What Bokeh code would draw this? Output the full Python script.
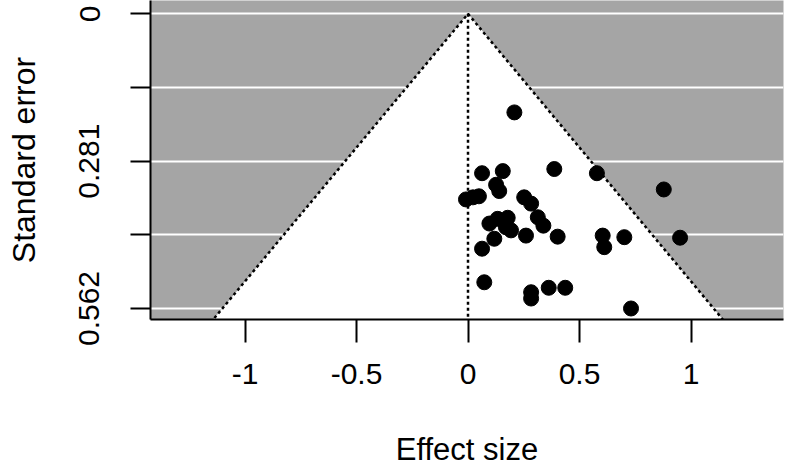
from bokeh.plotting import figure
from bokeh.models import Range1d, FixedTicker
from bokeh.embed import file_html
from bokeh.resources import INLINE

# ---- data ----
effect = [0.208, 0.063, 0.156, 0.387, 0.578, 0.878, 0.126, 0.140, -0.009, 0.022,
          0.049, 0.252, 0.283, 0.096, 0.133, 0.178, 0.170, 0.193, 0.118, 0.063,
          0.260, 0.313, 0.338, 0.402, 0.604, 0.611, 0.701, 0.951, 0.073, 0.283,
          0.283, 0.362, 0.436, 0.731]
std_err = [0.188, 0.304, 0.300, 0.296, 0.304, 0.335, 0.326, 0.338, 0.354, 0.350,
           0.348, 0.350, 0.362, 0.400, 0.391, 0.389, 0.407, 0.413, 0.429, 0.448,
           0.423, 0.388, 0.404, 0.425, 0.423, 0.445, 0.426, 0.427, 0.512, 0.531,
           0.543, 0.5225, 0.5225, 0.562]
x_ticks = [-1, -0.5, 0, 0.5, 1]
x_tick_labels = ["-1", "-0.5", "0", "0.5", "1"]
y_ticks = [0, 0.1405, 0.281, 0.4215, 0.562]
y_tick_labels = ["0", "", "0.281", "", "0.562"]
z_crit = 1.96

# ---- layout ----
X_LO, X_HI = -1.4238, 1.4148
Y_TOP, Y_BOTTOM = -0.0254, 0.583
FONT = "Liberation Sans"

p = figure(width=786, height=470, output_backend="svg", toolbar_location=None,
           x_range=Range1d(X_LO, X_HI), y_range=Range1d(Y_BOTTOM, Y_TOP),
           min_border_left=150, min_border_right=3, min_border_top=0,
           min_border_bottom=151)
p.background_fill_color = "#A5A5A5"
p.border_fill_color = "white"
p.outline_line_color = None

# grid
p.xgrid.visible = False
p.ygrid.ticker = FixedTicker(ticks=y_ticks)
p.ygrid.grid_line_color = "white"
p.ygrid.grid_line_width = 2

# funnel region
se_ext = Y_BOTTOM + 0.05
p.patch([-z_crit * se_ext, 0, z_crit * se_ext], [se_ext, 0, se_ext],
        fill_color="white", line_color=None)
p.line([-z_crit * se_ext, 0, z_crit * se_ext], [se_ext, 0, se_ext],
       line_color="black", line_width=2.5, line_dash="3 3")
p.line([0, 0], [0, se_ext], line_color="black", line_width=2.5, line_dash="3 3")

# studies
p.scatter(effect, std_err, size=15, color="black")

# axes
for ax in (p.xaxis[0], p.yaxis[0]):
    ax.axis_line_width = 2
    ax.major_tick_line_width = 2
    ax.major_tick_in = 0
    ax.minor_tick_line_color = None
    ax.major_label_text_font = FONT
    ax.major_label_text_font_size = "30px"
    ax.major_label_text_color = "black"
    ax.axis_label_text_font = FONT
    ax.axis_label_text_font_style = "normal"
    ax.axis_label_text_color = "black"

p.xaxis.ticker = FixedTicker(ticks=x_ticks)
p.xaxis.major_label_overrides = dict(zip(x_ticks, x_tick_labels))
p.xaxis.major_tick_out = 23
p.xaxis.major_label_standoff = 21
p.xaxis.axis_label = "Effect size"
p.xaxis.axis_label_text_font_size = "31px"
p.xaxis.axis_label_standoff = 45

p.yaxis.ticker = FixedTicker(ticks=y_ticks)
p.yaxis.major_label_overrides = dict(zip(y_ticks, y_tick_labels))
p.yaxis.major_tick_out = 20
p.yaxis.major_label_standoff = 31
p.yaxis.major_label_orientation = "vertical"
p.yaxis.axis_label = "Standard error"
p.yaxis.axis_label_text_font_size = "32px"
p.yaxis.axis_label_standoff = 35

open("out.html", "w").write(file_html(p, INLINE))
